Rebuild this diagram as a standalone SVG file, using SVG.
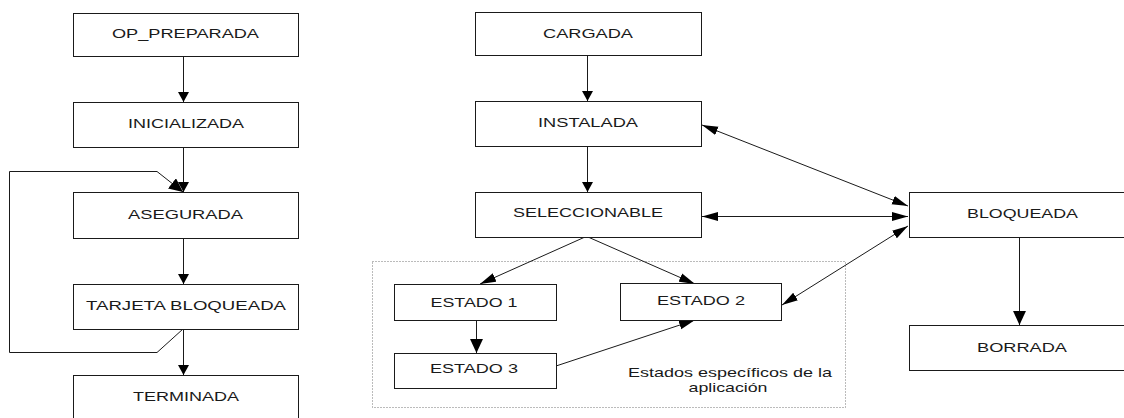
<svg xmlns="http://www.w3.org/2000/svg" width="1124" height="418" viewBox="0 0 1124 418">
<style>
.n rect{fill:#fff;stroke:#1a1a1a;stroke-width:1}
.n text,.lbl{font-family:"Liberation Sans",Arial,sans-serif;font-size:13px;fill:#1a1a1a;text-anchor:middle}
.c path{fill:none;stroke:#1a1a1a;stroke-width:1}
.grp{fill:none;stroke:#777;stroke-width:1;stroke-dasharray:1 2}
</style>
<defs>
<marker id="s" markerUnits="userSpaceOnUse" markerWidth="12" markerHeight="12" viewBox="0 0 10 12" refX="10" refY="6" orient="auto"><path d="M0,0.5 L10,6 L0,11.5 Z" fill="#000"/></marker>
<marker id="m" markerUnits="userSpaceOnUse" markerWidth="14" markerHeight="13" viewBox="0 0 13 12" refX="13" refY="6" orient="auto"><path d="M0,0 L13,6 L0,12 Z" fill="#000"/></marker>
<marker id="l" markerUnits="userSpaceOnUse" markerWidth="16" markerHeight="10" viewBox="0 0 16 10" refX="16" refY="5" orient="auto-start-reverse"><path d="M0,0.5 L16,5 L0,9.5 Z" fill="#000"/></marker>
</defs>
<rect width="1124" height="418" fill="#fff"/>
<rect class="grp" x="372.5" y="261.5" width="473" height="146"/>
<text class="lbl" x="730" y="377" textLength="204" lengthAdjust="spacingAndGlyphs">Estados específicos de la</text>
<text class="lbl" x="728" y="392" textLength="79" lengthAdjust="spacingAndGlyphs">aplicación</text>
<g class="c">
<path d="M183.5,56 V102" marker-end="url(#s)"/>
<path d="M183.5,147 V192" marker-end="url(#s)"/>
<path d="M183.5,238 V284" marker-end="url(#s)"/>
<path d="M183.5,329 V375" marker-end="url(#s)"/>
<path d="M183,329 L157,352.5 H9.5 V171.5 H157 L183,192" marker-end="url(#m)"/>
<path d="M587.5,55 V101" marker-end="url(#s)"/>
<path d="M587.5,146 V192" marker-end="url(#s)"/>
<path d="M585,237 L480,284" marker-end="url(#l)"/>
<path d="M588,237 L695,284" marker-end="url(#l)"/>
<path d="M476.5,320 V353" marker-end="url(#m)"/>
<path d="M556,366 L695,320" marker-end="url(#l)"/>
<path d="M702,125 L908,206" marker-start="url(#l)" marker-end="url(#l)"/>
<path d="M702,216.5 H908" marker-start="url(#l)" marker-end="url(#l)"/>
<path d="M782,305 L908,226" marker-start="url(#l)" marker-end="url(#l)"/>
<path d="M1019.5,237 V325" marker-end="url(#m)"/>
</g>
<g id="op_preparada" class="n"><rect x="73.5" y="13.5" width="225" height="43"/><text x="185.5" y="38" textLength="147" lengthAdjust="spacingAndGlyphs">OP_PREPARADA</text></g>
<g id="inicializada" class="n"><rect x="73.5" y="102.5" width="225" height="45"/><text x="186" y="128" textLength="116" lengthAdjust="spacingAndGlyphs">INICIALIZADA</text></g>
<g id="asegurada" class="n"><rect x="73.5" y="192.5" width="225" height="46"/><text x="185.5" y="219" textLength="115" lengthAdjust="spacingAndGlyphs">ASEGURADA</text></g>
<g id="tarjeta_bloqueada" class="n"><rect x="73.5" y="284.5" width="225" height="45"/><text x="186" y="310" textLength="200" lengthAdjust="spacingAndGlyphs">TARJETA BLOQUEADA</text></g>
<g id="terminada" class="n"><rect x="73.5" y="375.5" width="225" height="50"/><text x="186" y="401" textLength="106" lengthAdjust="spacingAndGlyphs">TERMINADA</text></g>
<g id="cargada" class="n"><rect x="475.5" y="12.5" width="226" height="43"/><text x="588" y="38" textLength="90" lengthAdjust="spacingAndGlyphs">CARGADA</text></g>
<g id="instalada" class="n"><rect x="475.5" y="101.5" width="226" height="45"/><text x="588" y="127" textLength="100" lengthAdjust="spacingAndGlyphs">INSTALADA</text></g>
<g id="seleccionable" class="n"><rect x="475.5" y="192.5" width="226" height="45"/><text x="588" y="217" textLength="150" lengthAdjust="spacingAndGlyphs">SELECCIONABLE</text></g>
<g id="estado1" class="n"><rect x="394.5" y="284.5" width="162" height="36"/><text x="474" y="307" textLength="87" lengthAdjust="spacingAndGlyphs">ESTADO 1</text></g>
<g id="estado2" class="n"><rect x="620.5" y="283.5" width="161" height="37"/><text x="701" y="305" textLength="88" lengthAdjust="spacingAndGlyphs">ESTADO 2</text></g>
<g id="estado3" class="n"><rect x="394.5" y="353.5" width="162" height="35"/><text x="474" y="373" textLength="88" lengthAdjust="spacingAndGlyphs">ESTADO 3</text></g>
<g id="bloqueada" class="n"><rect x="909.5" y="192.5" width="221" height="45"/><text x="1022.5" y="218" textLength="111" lengthAdjust="spacingAndGlyphs">BLOQUEADA</text></g>
<g id="borrada" class="n"><rect x="909.5" y="325.5" width="221" height="45"/><text x="1022" y="352" textLength="90" lengthAdjust="spacingAndGlyphs">BORRADA</text></g>
</svg>
